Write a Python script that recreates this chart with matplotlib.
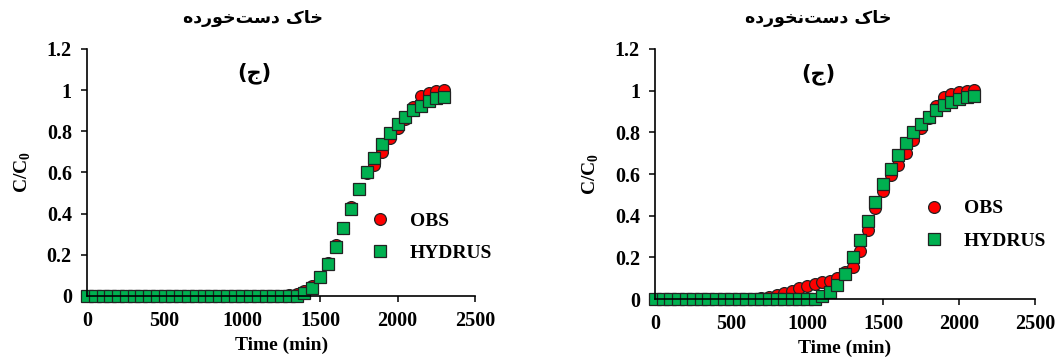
import matplotlib.pyplot as plt

# breakthrough data, time step 50 min
t_left = list(range(0, 2301, 50))
obs_left = [0.0] * 26 + [0.003, 0.01, 0.025, 0.05, 0.09, 0.16, 0.245, 0.33, 0.43, 0.52,
                         0.595, 0.635, 0.70, 0.765, 0.815, 0.86, 0.92, 0.97, 0.985, 0.995, 1.0]
hyd_left = [0.0] * 27 + [0.0, 0.013, 0.04, 0.09, 0.155, 0.24, 0.33, 0.42, 0.52,
                         0.60, 0.67, 0.74, 0.79, 0.835, 0.87, 0.905, 0.925, 0.945, 0.96, 0.967]

t_right = list(range(0, 2101, 50))
obs_right = [0.0] * 13 + [0.002, 0.006, 0.012, 0.02, 0.03, 0.04, 0.052, 0.065, 0.075, 0.082, 0.087,
                          0.1, 0.13, 0.155, 0.23, 0.33, 0.435, 0.52, 0.595, 0.645, 0.70, 0.765,
                          0.82, 0.87, 0.925, 0.97, 0.985, 0.995, 1.0, 1.005]
hyd_right = [0.0] * 22 + [0.015, 0.035, 0.066, 0.12, 0.20, 0.285, 0.375, 0.465, 0.55, 0.625,
                          0.69, 0.75, 0.80, 0.84, 0.875, 0.905, 0.93, 0.945, 0.96, 0.97, 0.975]

x_ticks = [0, 500, 1000, 1500, 2000, 2500]
y_ticks = [0, 0.2, 0.4, 0.6, 0.8, 1.0, 1.2]
y_labels = ['0', '0.2', '0.4', '0.6', '0.8', '1', '1.2']

# Persian contextual forms: (isolated, final, initial, medial); None = does not join forward
FORMS = {
    'ا': ('\uFE8D', '\uFE8E', None, None),
    'خ': ('\uFEA5', '\uFEA6', '\uFEA7', '\uFEA8'),
    'ک': ('\uFB8E', '\uFB8F', '\uFB90', '\uFB91'),
    'د': ('\uFEA9', '\uFEAA', None, None),
    'س': ('\uFEB1', '\uFEB2', '\uFEB3', '\uFEB4'),
    'ت': ('\uFE95', '\uFE96', '\uFE97', '\uFE98'),
    'و': ('\uFEED', '\uFEEE', None, None),
    'ر': ('\uFEAD', '\uFEAE', None, None),
    'ه': ('\uFEE9', '\uFEEA', '\uFEEB', '\uFEEC'),
    'ن': ('\uFEE5', '\uFEE6', '\uFEE7', '\uFEE8'),
    'ج': ('\uFE9D', '\uFE9E', '\uFE9F', '\uFEA0'),
}


def shape(text):
    out = []
    for i, ch in enumerate(text):
        if ch not in FORMS:
            if ch != '\u200c':
                out.append(ch)
            continue
        prev = text[i - 1] if i > 0 else ''
        nxt = text[i + 1] if i + 1 < len(text) else ''
        join_prev = prev in FORMS and FORMS[prev][2] is not None
        join_next = nxt in FORMS and FORMS[ch][2] is not None
        iso, fin, ini, med = FORMS[ch]
        if join_prev and join_next:
            out.append(med)
        elif join_prev:
            out.append(fin)
        elif join_next:
            out.append(ini)
        else:
            out.append(iso)
    return ''.join(reversed(out))


plt.rcParams['font.family'] = 'Liberation Serif'
plt.rcParams['font.weight'] = 'bold'
plt.rcParams['mathtext.fontset'] = 'custom'
plt.rcParams['mathtext.rm'] = 'Liberation Serif:bold'
plt.rcParams['mathtext.bf'] = 'Liberation Serif:bold'

fig = plt.figure(figsize=(10.55, 3.6), dpi=100)
ax1 = fig.add_axes([0.0825, 0.178, 0.368, 0.686])
ax2 = fig.add_axes([0.621, 0.169, 0.360, 0.695])

panels = [
    (ax1, t_left, obs_left, hyd_left, 'خاک دست\u200cخورده', (0.729, 0.239), 0.240),
    (ax2, t_right, obs_right, hyd_right, 'خاک دست\u200cنخورده', (0.708, 0.298), 0.776),
]

for ax, t, obs, hyd, title, leg_pos, title_x in panels:
    ax.plot(t, obs, 'o', ms=8.5, mfc='#FF0000', mec='#222222', mew=0.9,
            label='OBS', clip_on=False)
    ax.plot(t, hyd, 's', ms=9, mfc='#00B050', mec='#222222', mew=0.9,
            label='HYDRUS', clip_on=False)
    ax.set_xlim(0, 2500)
    ax.set_ylim(0, 1.2)
    ax.set_xticks(x_ticks)
    ax.set_yticks(y_ticks)
    ax.set_yticklabels(y_labels)
    ax.tick_params(labelsize=14.5, length=4, width=1.1, direction='out')
    ax.tick_params(axis='y', pad=7)
    ax.tick_params(axis='x', pad=7)
    for s in ('top', 'right'):
        ax.spines[s].set_visible(False)
    for s in ('left', 'bottom'):
        ax.spines[s].set_linewidth(1.2)
    ax.set_xlabel('Time (min)', fontsize=14, fontweight='bold', labelpad=4)
    ax.set_ylabel(r'C/C$_{\mathbf{0}}$', fontsize=14, fontweight='bold', labelpad=10)
    ax.text(0.43, 0.90, '(' + shape('ج') + ')', transform=ax.transAxes,
            ha='center', va='center', fontsize=15, family='DejaVu Sans', fontweight='bold')
    fig.text(title_x, 0.95, shape(title), fontsize=12.5, family='DejaVu Sans',
             fontweight='bold', ha='center', va='center')
    ax.legend(loc='center left', bbox_to_anchor=leg_pos, frameon=False, fontsize=14,
              borderpad=0, borderaxespad=0, handlelength=1, handletextpad=1.05,
              labelspacing=0.75)

fig.savefig('out.png', dpi=100)
